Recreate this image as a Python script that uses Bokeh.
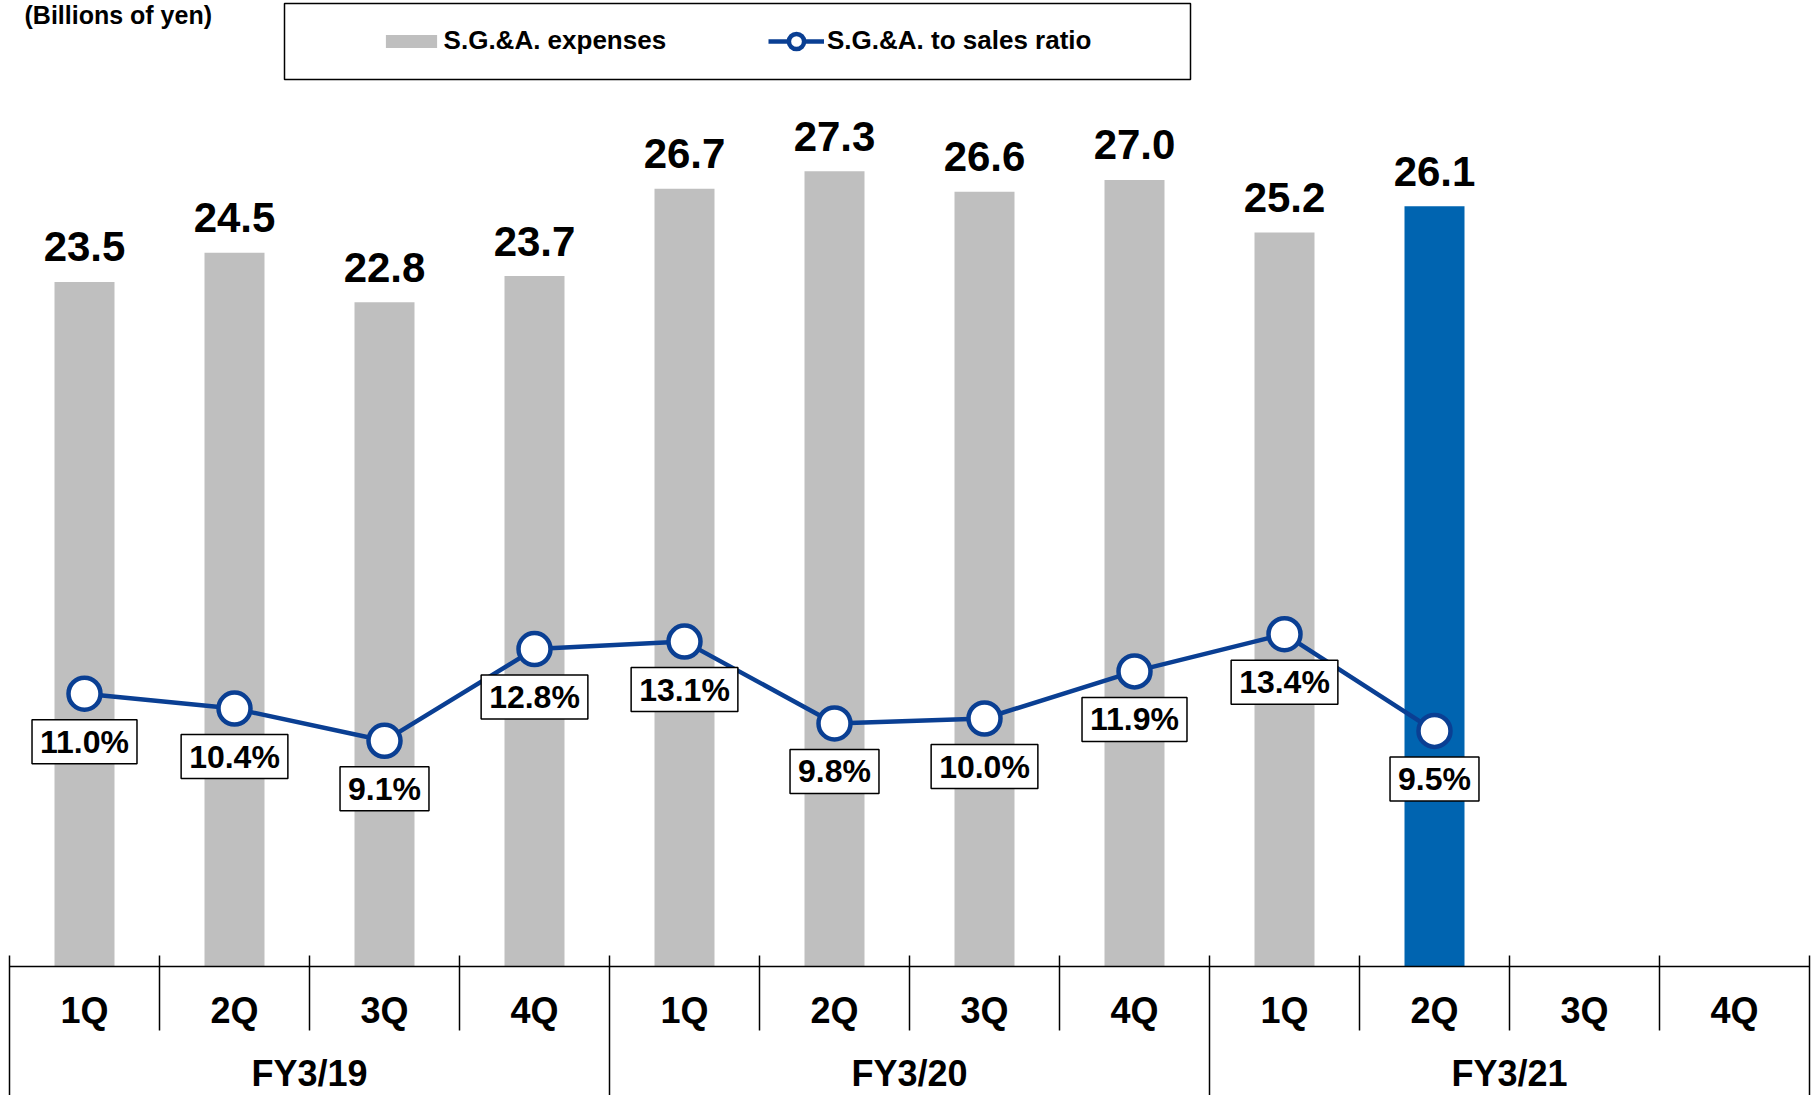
import numpy as np
from bokeh.plotting import figure
from bokeh.models import (Range1d, Legend, LegendItem, BoxAnnotation, Label,
                          ColumnDataSource)
from bokeh.core.properties import value
from bokeh.embed import file_html
from bokeh.resources import INLINE

# ---------------- data ----------------
fiscal_years = ["FY3/19", "FY3/20", "FY3/21"]
quarters = ["1Q", "2Q", "3Q", "4Q"]
sga_expenses = [23.5, 24.5, 22.8, 23.7, 26.7, 27.3, 26.6, 27.0, 25.2, 26.1]
sga_ratio = [11.0, 10.4, 9.1, 12.8, 13.1, 9.8, 10.0, 11.9, 13.4, 9.5]
unit_label = "(Billions of yen)"
series_names = ["S.G.&A. expenses", "S.G.&A. to sales ratio"]

# ---------------- style / layout ----------------
FONT = "Liberation Sans"
GRAY = "#BFBFBF"
BLUE = "#0064B0"
NAVY = "#0A3F93"

W, H = 1812, 1095
PAGE = 0
n_slots = len(fiscal_years) * len(quarters)
LEFT_PX = 9
RIGHT_PX = 1809
XPX = (RIGHT_PX - LEFT_PX) / n_slots
BASE_PX = 966
YPX = 29.13
RPX = 24.8


def px2x(px):
    return (px - LEFT_PX) / XPX


def px2y(py):
    return (BASE_PX - py) / YPX


def px2r(py):
    return (BASE_PX - py) / RPX


p = figure(width=W, height=H,
           x_range=Range1d(px2x(PAGE), px2x(PAGE + W)),
           y_range=Range1d(px2y(PAGE + H), px2y(PAGE)),
           output_backend="svg", toolbar_location=None,
           x_axis_type=None, y_axis_type=None, min_border=0,
           outline_line_color=None, background_fill_color="white")
p.extra_y_ranges = {"ratio": Range1d(px2r(PAGE + H), px2r(PAGE))}

n = len(sga_expenses)
xs = [i + 0.5 for i in range(n)]
colors = [GRAY] * (n - 1) + [BLUE]
src = ColumnDataSource(dict(
    x=xs, sga=sga_expenses, ratio=sga_ratio, color=colors,
    sga_lbl=[f"{v:.1f}" for v in sga_expenses],
    ratio_lbl=[f"{v:.1f}%" for v in sga_ratio],
))

bars = p.vbar(x="x", top="sga", bottom=0, width=0.4, fill_color="color",
              line_color=None, source=src)
p.text(x="x", y="sga", text="sga_lbl", source=src, text_align="center",
       text_baseline="middle", y_offset=-35, text_font=value(FONT),
       text_font_style="bold", text_font_size="42px", text_color="black")

line = p.line(x="x", y="ratio", y_range_name="ratio", source=src,
              line_color=NAVY, line_width=4.5)
marks = p.scatter(x="x", y="ratio", y_range_name="ratio", source=src,
                  size=32, fill_color="white", line_color=NAVY, line_width=4.5)
p.text(x="x", y="ratio", y_range_name="ratio", text="ratio_lbl", source=src,
       y_offset=48, text_align="center", text_baseline="middle",
       text_font=value(FONT), text_font_style="bold", text_font_size="32px",
       text_color="black", background_fill_color="white",
       border_line_color="black", border_line_width=1.5, padding=(8, 4))

# ---------------- category axis (drawn on the same x scale) ----------------
p.line(x=[0, n_slots], y=[0, 0], line_color="black", line_width=1.5)
bx = list(range(n_slots + 1))
is_year = [b % len(quarters) == 0 for b in bx]
p.segment(x0=bx, x1=bx, y0=[px2y(955)] * len(bx),
          y1=[px2y(PAGE + H) if yb else px2y(1030) for yb in is_year],
          line_color="black", line_width=1.5)
p.text(x=[i + 0.5 for i in range(n_slots)], y=[px2y(1010)] * n_slots,
       text=[quarters[i % len(quarters)] for i in range(n_slots)],
       text_align="center", text_baseline="middle", text_font=value(FONT),
       text_font_style="bold", text_font_size="36px", text_color="black")
p.text(x=[len(quarters) * k + len(quarters) / 2 for k in range(len(fiscal_years))],
       y=[px2y(1073)] * len(fiscal_years), text=fiscal_years,
       text_align="center", text_baseline="middle", text_font=value(FONT),
       text_font_style="bold", text_font_size="36px", text_color="black")

# ---------------- unit label ----------------
p.add_layout(Label(x=px2x(24), y=px2y(14), text=unit_label,
                   text_baseline="middle", text_font=FONT,
                   text_font_style="bold", text_font_size="25px",
                   text_color="black"))

# ---------------- legend ----------------
p.add_layout(BoxAnnotation(left=px2x(284), right=px2x(1190), top=px2y(3),
                           bottom=px2y(79), fill_alpha=0, line_color="black",
                           line_alpha=1, line_width=1.5, line_dash="solid"))

leg1 = Legend(items=[LegendItem(label=series_names[0], renderers=[bars], index=0)],
              location=(378.6 - PAGE, H - (56 - PAGE)), orientation="horizontal",
              glyph_width=64, glyph_height=16, label_standoff=1,
              padding=0, margin=0, spacing=0, border_line_color=None,
              background_fill_alpha=0, label_text_font=FONT,
              label_text_font_style="bold", label_text_font_size="26px",
              label_text_color="black")
leg2 = Legend(items=[LegendItem(label=series_names[1], renderers=[line, marks])],
              location=(768 - PAGE, H - (59.5 - PAGE)), orientation="horizontal",
              glyph_width=56, glyph_height=38, label_standoff=3,
              padding=0, margin=0, spacing=0, border_line_color=None,
              background_fill_alpha=0, label_text_font=FONT,
              label_text_font_style="bold", label_text_font_size="26px",
              label_text_color="black")
p.add_layout(leg1)
p.add_layout(leg2)

open("out.html", "w").write(file_html(p, INLINE))
